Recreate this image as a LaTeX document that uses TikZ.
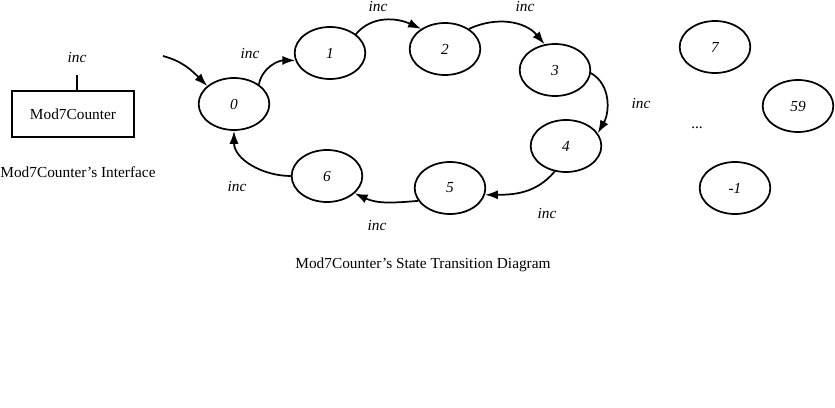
\documentclass[tikz,border=0pt]{standalone}
\usepackage{fontspec}
\setmainfont{Liberation Serif}
\usetikzlibrary{arrows.meta,shapes.geometric}

\begin{document}
\begin{tikzpicture}[x=0.75pt,y=-0.75pt,line width=1.3pt,>={Latex[length=3.4mm,width=2.4mm]},
  font=\fontsize{11.5}{14}\selectfont,
  state/.style={draw,ellipse,minimum width=53pt,minimum height=39pt,inner sep=0pt,font=\fontsize{11.5}{14}\selectfont\itshape},
  trans/.style={->},
  lbl/.style={font=\fontsize{11.5}{14}\selectfont\itshape}]
  \useasboundingbox (0,0) rectangle (835,407);
  % interface
  \node[draw,minimum width=92pt,minimum height=35pt] (box) at (73,114){Mod7Counter};
  \coordinate (tick) at (77,75);
  \draw[line width=2pt] (tick) -- (tick|-box.north);
  \node[lbl] (incbox) at (77,57){inc};
  \node (capif) at (78,172){Mod7Counter's Interface};
  % states
  \node[state] (s0) at (234,104){0};
  \node[state] (s1) at (330,53){1};
  \node[state] (s2) at (445,49){2};
  \node[state] (s3) at (555,70){3};
  \node[state] (s4) at (566,146){4};
  \node[state] (s5) at (450,188){5};
  \node[state] (s6) at (327,176){6};
  \node[state] (s7) at (715,47){7};
  \node[state] (s59) at (798,106){59};
  \node[state] (sm1) at (735,188){-1};
  \node (dots) at (697,128){...};
  % transitions
  \coordinate (init) at (163,56);
  \draw[trans] (init) to[out=-15,in=135] (s0.146);
  \draw[trans] (s0.38) to[out=80,in=180] (s1.192);
  \draw[trans] (s1.36) to[out=50,in=155] (s2.140);
  \draw[trans] (s2.40) to[out=25,in=130] (s3.112);
  \draw[trans] (s3.-5) to[out=-30,in=60] (s4.22);
  \draw[trans] (s4.-114) to[out=-130,in=0] (s5.-11);
  \draw[trans] (s5.-158) to[out=185,in=-25] (s6.-32);
  \draw[trans] (s6.west) to[out=180,in=-90] (s0.south);
  \node[lbl] (l01) at (250,53){inc};
  \node[lbl] (l12) at (378,6){inc};
  \node[lbl] (l23) at (525,6){inc};
  \node[lbl] (l34) at (641,103){inc};
  \node[lbl] (l45) at (547,213){inc};
  \node[lbl] (l56) at (377,225){inc};
  \node[lbl] (l60) at (237,186){inc};
  \node (capst) at (423,265){Mod7Counter's State Transition Diagram};
\end{tikzpicture}
\end{document}
